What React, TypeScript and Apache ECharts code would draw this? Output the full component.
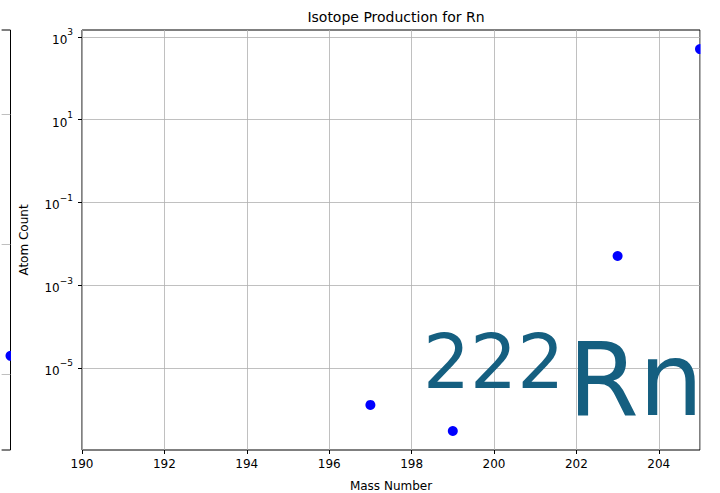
import React, { useEffect, useRef } from 'react';
import * as echarts from 'echarts';

// Main panel data
const massNumbers = [197, 199, 203, 205];
const atomCounts = [1.28e-6, 3.0e-7, 5.1e-3, 5.1e2];
const xTickValues = [190, 192, 194, 196, 198, 200, 202, 204];
const yTickExponents = [-5, -3, -1, 1, 3];
const xRange = [190, 205];
const yExponentRange = [-6.982, 3.169];

// Partially visible neighbouring panel at the left edge
const leftPanelX = [1];
const leftPanelCounts = [1.9e-3];
const leftPanelGridExponents = [-3, -1, 1];
const leftPanelExponentRange = [-4.17, 2.29];

const titleText = 'Isotope Production for Rn';
const xAxisTitle = 'Mass Number';
const yAxisTitle = 'Atom Count';
const isotopeMass = '222';
const isotopeSymbol = 'Rn';

const FONT = 'DejaVu Sans';

export default function App() {
  const ref = useRef<HTMLDivElement>(null);

  useEffect(() => {
    document.body.style.margin = '0';
    if (!ref.current) return;
    const chart = echarts.init(ref.current, undefined, { renderer: 'svg' });

    const mainData = massNumbers.map((m, i) => [m, Math.log10(atomCounts[i])]);
    const leftData = leftPanelX.map((x, i) => [x, Math.log10(leftPanelCounts[i])]);
    const sup = (n: number) => String(n).replace('-', '\u2212');

    const option: any = {
      animation: false,
      backgroundColor: '#ffffff',
      textStyle: { fontFamily: FONT },
      title: {
        text: titleText,
        left: 391,
        top: 5,
        textAlign: 'center',
        textStyle: { fontFamily: FONT, fontSize: 14, fontWeight: 'normal', color: '#000' },
      },
      grid: [
        {
          left: 82, top: 30, width: 618, height: 420,
          outerBoundsMode: 'none', containLabel: false,
          show: true, borderColor: '#000', borderWidth: 1, backgroundColor: 'transparent',
        },
        {
          left: -20, top: 30, width: 30.5, height: 420,
          outerBoundsMode: 'none', containLabel: false,
          show: true, borderColor: '#000', borderWidth: 1, backgroundColor: 'transparent',
        },
      ],
      xAxis: [
        {
          type: 'value', gridIndex: 0, min: xRange[0], max: xRange[1], interval: 2,
          position: 'bottom',
          name: xAxisTitle, nameLocation: 'middle', nameGap: 30,
          nameTextStyle: { fontFamily: FONT, fontSize: 12, color: '#000' },
          axisLine: { show: false, onZero: false },
          axisTick: { show: true, inside: false, length: 4, customValues: xTickValues, lineStyle: { color: '#000', width: 1 } },
          axisLabel: { customValues: xTickValues, margin: 8, fontFamily: FONT, fontSize: 12, color: '#000' },
          splitLine: { show: true, lineStyle: { color: '#b0b0b0', width: 0.8 } },
        },
        {
          type: 'value', gridIndex: 1, min: 0, max: 1, show: false,
          axisLine: { onZero: false },
        },
      ],
      yAxis: [
        {
          type: 'value', gridIndex: 0, min: yExponentRange[0], max: yExponentRange[1],
          position: 'left',
          name: yAxisTitle, nameLocation: 'middle', nameGap: 52,
          nameTextStyle: { fontFamily: FONT, fontSize: 12, color: '#000' },
          axisLine: { show: false, onZero: false },
          axisTick: { show: true, inside: false, length: 4, customValues: yTickExponents, lineStyle: { color: '#000', width: 1 } },
          axisLabel: {
            customValues: yTickExponents,
            margin: 9,
            formatter: (v: number) => `{b|10}{s|${sup(Math.round(v))}}`,
            rich: {
              b: { fontFamily: FONT, fontSize: 12, color: '#000', lineHeight: 18, verticalAlign: 'bottom' },
              s: { fontFamily: FONT, fontSize: 9, color: '#000', lineHeight: 18, verticalAlign: 'top' },
            },
          },
          splitLine: { show: true, lineStyle: { color: '#b0b0b0', width: 0.8 } },
        },
        {
          type: 'value', gridIndex: 1, min: leftPanelExponentRange[0], max: leftPanelExponentRange[1],
          axisLine: { show: false, onZero: false },
          axisTick: { show: false, customValues: leftPanelGridExponents },
          axisLabel: { show: false, customValues: leftPanelGridExponents },
          splitLine: { show: true, lineStyle: { color: '#b0b0b0', width: 0.8 } },
        },
      ],
      series: [
        {
          type: 'scatter', xAxisIndex: 0, yAxisIndex: 0, data: mainData,
          symbol: 'circle', symbolSize: 10, clip: false,
          itemStyle: { color: '#0000ff', opacity: 1 },
        },
        {
          type: 'scatter', xAxisIndex: 1, yAxisIndex: 1, data: leftData,
          symbol: 'circle', symbolSize: 10, clip: false,
          itemStyle: { color: '#0000ff', opacity: 1 },
        },
      ],
      graphic: [
        { type: 'rect', z: 50, shape: { x: 700.6, y: 0, width: 20, height: 493 }, style: { fill: '#ffffff' } },
        { type: 'rect', z: 50, shape: { x: 11, y: 0, width: 5, height: 493 }, style: { fill: '#ffffff' } },
        { type: 'rect', z: 50, shape: { x: 0, y: 0, width: 1.6, height: 493 }, style: { fill: '#ffffff' } },
        {
          type: 'text', z: 60, x: 423, y: 362,
          style: { text: isotopeMass, fontFamily: FONT, fontSize: 74, fill: '#155f80', align: 'left', verticalAlign: 'middle' },
        },
        {
          type: 'text', z: 60, x: 568, y: 379,
          style: { text: isotopeSymbol, fontFamily: FONT, fontSize: 102, fill: '#155f80', align: 'left', verticalAlign: 'middle' },
        },
      ],
    };

    chart.setOption(option);
    return () => chart.dispose();
  }, []);

  return (
    <div
      ref={ref}
      style={{ position: 'fixed', left: 0, top: 0, width: 720, height: 493 }}
    />
  );
}
